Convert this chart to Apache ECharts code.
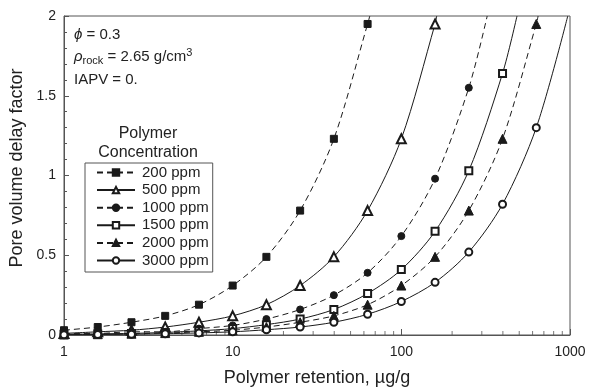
<!DOCTYPE html>
<html>
<head>
<meta charset="utf-8">
<script src="https://cdn.jsdelivr.net/npm/echarts@6/dist/echarts.min.js"></script>
<style>
  html, body { margin: 0; padding: 0; background: #fff; }
  #chart { width: 592px; height: 389px; }
</style>
</head>
<body>
<div id="chart"></div>
<script>
// retention values where markers sit (µg/g)
const retention = [1, 1.585, 2.512, 3.981, 6.31, 10, 15.85, 25.12, 39.81, 63.1, 100, 158.5, 251.2, 398.1, 631];

// pore volume delay factor
const conc200 = [0.03, 0.05, 0.08, 0.12, 0.19, 0.31, 0.49, 0.78, 1.23, 1.95];
const conc500 = [0.01, 0.02, 0.03, 0.05, 0.08, 0.12, 0.19, 0.31, 0.49, 0.78, 1.23, 1.95];
const conc1000 = [0.01, 0.01, 0.02, 0.02, 0.04, 0.06, 0.10, 0.16, 0.25, 0.39, 0.62, 0.98, 1.55];
const conc1500 = [0.004, 0.007, 0.01, 0.016, 0.026, 0.04, 0.065, 0.10, 0.16, 0.26, 0.41, 0.65, 1.03, 1.64];
const conc2000 = [0.003, 0.005, 0.008, 0.012, 0.02, 0.03, 0.05, 0.08, 0.12, 0.19, 0.31, 0.49, 0.78, 1.23, 1.95];
const conc3000 = [0.002, 0.003, 0.005, 0.008, 0.013, 0.02, 0.033, 0.05, 0.08, 0.13, 0.21, 0.33, 0.52, 0.82, 1.30];

// retention where each curve leaves the top of the plot (y = 2)
const topRetention = [65, 162, 323, 485, 647, 970];

const seriesNames = ["200 ppm", "500 ppm", "1000 ppm", "1500 ppm", "2000 ppm", "3000 ppm"];
const seriesValues = [conc200, conc500, conc1000, conc1500, conc2000, conc3000];
const seriesSymbols = ["rect", "emptyTriangle", "circle", "emptyRect", "triangle", "emptyCircle"];
const seriesDashed = [true, false, true, false, true, false];

const minorTickValues = [2, 3, 4, 5, 6, 7, 8, 9, 20, 30, 40, 50, 60, 70, 80, 90, 200, 300, 400, 500, 600, 700, 800, 900];

const ink = "#1a1a1a";
const axisInk = "#555";
const textInk = "#222";
const font = "Liberation Sans";

const chart = echarts.init(document.getElementById("chart"), null, { renderer: "canvas" });

const curves = seriesNames.map((name, k) => {
  const data = seriesValues[k].map((v, i) => [retention[i], v]);
  data.push({ value: [topRetention[k], 2], symbol: "none" });
  return {
    name,
    type: "line",
    data,
    smooth: 0.3,
    symbol: seriesSymbols[k],
    symbolSize: seriesSymbols[k].toLowerCase().includes("triangle") ? 9 : 7,
    lineStyle: { color: ink, width: 1, type: seriesDashed[k] ? [6, 4] : "solid" },
    itemStyle: { color: ink, borderColor: ink, borderWidth: 1 },
    z: 3,
  };
});

const option = {
  backgroundColor: "#fff",
  animation: false,
  textStyle: { fontFamily: font, color: textInk },
  grid: {
    left: 64, right: 22, top: 16, bottom: 54,
    outerBoundsMode: "none",
    show: true, borderColor: axisInk, borderWidth: 1,
  },
  legend: {
    data: seriesNames,
    orient: "vertical",
    left: 85,
    top: 163,
    itemWidth: 38,
    itemHeight: 8,
    itemGap: 2.6,
    padding: [2, 4, 4, 11],
    borderColor: axisInk,
    borderWidth: 1,
    textStyle: { fontSize: 15, color: textInk, fontFamily: font, lineHeight: 15, padding: [0, 0, 0, 2] },
  },
  xAxis: {
    type: "log",
    logBase: 10,
    min: 1,
    max: 1000,
    name: "Polymer retention, µg/g",
    nameLocation: "middle",
    nameGap: 34,
    nameTextStyle: { fontSize: 18, color: textInk },
    axisLine: { lineStyle: { color: axisInk } },
    axisTick: { inside: true, length: 6, lineStyle: { color: axisInk } },
    axisLabel: { fontSize: 14, color: textInk, margin: 10, formatter: (v) => String(v) },
    splitLine: { show: false },
  },
  yAxis: {
    type: "value",
    min: 0,
    max: 2,
    interval: 0.5,
    name: "Pore volume delay factor",
    nameLocation: "middle",
    nameGap: 36,
    nameTextStyle: { fontSize: 18, color: textInk, padding: [0, 0, 0, 15] },
    axisLine: { show: true, lineStyle: { color: axisInk } },
    axisTick: { inside: true, length: 5, lineStyle: { color: axisInk } },
    minorTick: { show: true, splitNumber: 5, length: 3, lineStyle: { color: axisInk } },
    axisLabel: { fontSize: 14, color: textInk, margin: 8 },
    splitLine: { show: false },
  },
  graphic: [
    {
      type: "text",
      x: 74,
      y: 27,
      style: {
        text: "{i|ϕ} = 0.3",
        fontSize: 15,
        fontFamily: font,
        fill: textInk,
        rich: { i: { fontStyle: "italic", fontSize: 15, fontFamily: font } },
      },
    },
    {
      type: "text",
      x: 74,
      y: 48,
      style: {
        text: "{i|ρ}{sub|rock} = 2.65 g/cm{sup|3}",
        fontSize: 15,
        fontFamily: font,
        fill: textInk,
        rich: {
          i: { fontStyle: "italic", fontSize: 15, fontFamily: font, lineHeight: 18 },
          sub: { fontSize: 11, fontFamily: font, padding: [8, 0, 0, 0], lineHeight: 18 },
          sup: { fontSize: 11, fontFamily: font, padding: [0, 0, 8, 0], lineHeight: 18 },
        },
      },
    },
    {
      type: "text",
      x: 74,
      y: 72,
      style: { text: "IAPV = 0.", fontSize: 15, fontFamily: font, fill: textInk },
    },
    {
      type: "text",
      x: 148,
      y: 124,
      style: {
        text: "Polymer\nConcentration",
        fontSize: 16,
        lineHeight: 19,
        fontFamily: font,
        fill: textInk,
        align: "center",
      },
    },
  ],
  series: [
    ...curves,
    {
      name: "minor ticks",
      type: "scatter",
      data: minorTickValues.map((v) => [v, 0]),
      symbol: "rect",
      symbolSize: [1, 4],
      symbolOffset: [0, -2],
      itemStyle: { color: axisInk },
      silent: true,
      z: 1,
    },
  ],
};

chart.setOption(option);
</script>
</body>
</html>
